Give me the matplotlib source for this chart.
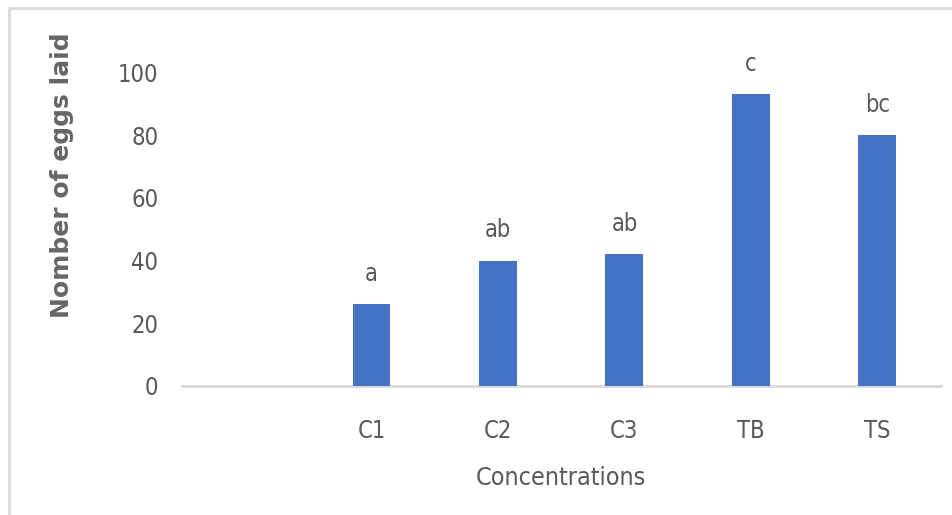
import matplotlib
matplotlib.use("Agg")
import matplotlib.pyplot as plt
from matplotlib.patches import Rectangle

# mean eggs laid per treatment, with significance letters
categories = ["", "C1", "C2", "C3", "TB", "TS"]
eggs_laid = [0, 26, 40, 42, 93, 80]
sig_letters = ["", "a", "ab", "ab", "c", "bc"]
y_ticks = [0, 20, 40, 60, 80, 100]

BAR_COLOR = "#4472C4"
TEXT_COLOR = "#595959"
AXIS_COLOR = "#D9D9D9"
NARROW = dict(family="DejaVu Sans", stretch="condensed")

fig = plt.figure(figsize=(9.52, 5.15), dpi=100)
ax = fig.add_axes([0.191, 0.2505, 0.797, 0.6087])

x = list(range(len(categories)))
ax.bar(x, eggs_laid, width=0.30, color=BAR_COLOR, zorder=3)

for xi, val, lab in zip(x, eggs_laid, sig_letters):
    if lab:
        ax.annotate(lab, (xi, val), xytext=(0, 17), textcoords="offset points",
                    ha="center", va="baseline", fontsize=17, color=TEXT_COLOR,
                    annotation_clip=False, **NARROW)

ax.set_xlim(-0.5, len(categories) - 0.5)
ax.set_ylim(0, 100)
ax.set_yticks(y_ticks)
ax.set_xticks(x)
ax.set_xticklabels(categories)

for side in ("top", "right", "left"):
    ax.spines[side].set_visible(False)
ax.spines["bottom"].set_color(AXIS_COLOR)
ax.spines["bottom"].set_linewidth(2)

ax.tick_params(axis="both", length=0, labelsize=17, labelcolor=TEXT_COLOR)
ax.tick_params(axis="y", pad=17)
ax.tick_params(axis="x", pad=24)
for t in ax.get_xticklabels() + ax.get_yticklabels():
    t.set_family(NARROW["family"])
    t.set_stretch(NARROW["stretch"])

fig.text(0.589, 1 - 478 / 515, "Concentrations", ha="center", va="center",
         fontsize=18, color=TEXT_COLOR, **NARROW)
fig.text(62 / 952, 1 - 175 / 515, "Nomber of eggs laid", ha="center", va="center",
         rotation=90, fontsize=18, color="#666666", fontweight="bold")

# light frame around the chart area
fig.patches.append(Rectangle((9 / 952, -0.05), 1.0, 1 - 8 / 515 + 0.05,
                             transform=fig.transFigure, fill=False,
                             edgecolor=AXIS_COLOR, linewidth=2))

fig.savefig("out.png", dpi=100)
